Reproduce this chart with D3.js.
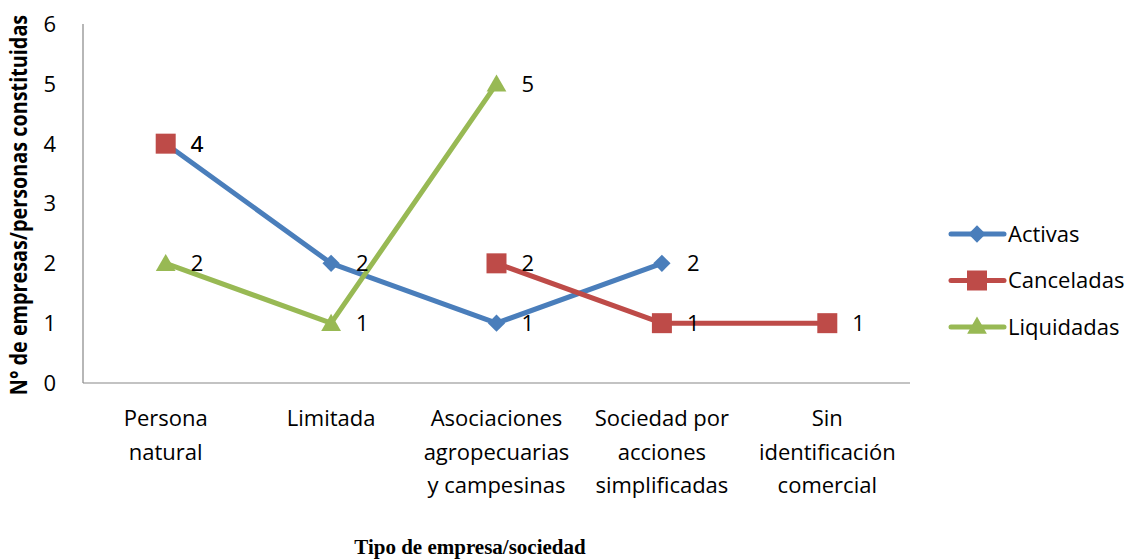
<!DOCTYPE html>
<html>
<head>
<meta charset="utf-8">
<script src="https://cdn.jsdelivr.net/npm/d3@7"></script>
<style>
  body { margin: 0; background: #fff; }
  svg { display: block; }
</style>
</head>
<body>
<svg id="chart" width="1132" height="559"></svg>
<script>
// Categories (multi-line labels split on "|")
const categories = [
  "Persona|natural",
  "Limitada",
  "Asociaciones|agropecuarias|y campesinas",
  "Sociedad por|acciones|simplificadas",
  "Sin|identificación|comercial"
];
const activas    = [4, 2, 1, 2, null];
const canceladas = [4, null, 2, 1, 1];
const liquidadas = [2, 1, 5, null, null];
const yTicks = [0, 1, 2, 3, 4, 5, 6];

const series = [
  { name: "Activas",    values: activas,    color: "#4a7ebb", shape: "diamond" },
  { name: "Canceladas", values: canceladas, color: "#be4b48", shape: "square" },
  { name: "Liquidadas", values: liquidadas, color: "#98b954", shape: "triangle" }
];

const svg = d3.select("#chart");
const font = "'Open Sans', Lato, sans-serif";
const fs = "22px";
const plot = { left: 83, right: 910, top: 24, bottom: 383 };

const x = d3.scalePoint().domain(d3.range(categories.length))
  .range([plot.left, plot.right]).padding(0.5);
const y = d3.scaleLinear().domain([0, 6]).range([plot.bottom, plot.top]);

// Axis lines
svg.append("line").attr("x1", plot.left).attr("x2", plot.left)
  .attr("y1", plot.top).attr("y2", plot.bottom)
  .attr("stroke", "#878787").attr("stroke-width", 1.2);
svg.append("line").attr("x1", plot.left).attr("x2", plot.right)
  .attr("y1", plot.bottom).attr("y2", plot.bottom)
  .attr("stroke", "#878787").attr("stroke-width", 1.2);

// Y tick labels
svg.append("g").selectAll("text").data(yTicks).join("text")
  .attr("x", 56).attr("y", d => y(d)).attr("dy", "0.36em")
  .attr("text-anchor", "end")
  .style("font-family", font).style("font-size", fs).attr("fill", "#000")
  .text(d => d);

// Category labels
const catG = svg.append("g");
categories.forEach((c, i) => {
  const t = catG.append("text")
    .attr("x", x(i)).attr("y", 426)
    .attr("text-anchor", "middle")
    .style("font-family", font).style("font-size", fs).attr("fill", "#000");
  c.split("|").forEach((line, k) => {
    t.append("tspan").attr("x", x(i)).attr("dy", k === 0 ? 0 : 33.5).text(line);
  });
});

// Axis titles (y title narrowed horizontally to keep a tall, compact face)
svg.append("text")
  .attr("transform", "translate(27,205) rotate(-90) scale(0.88,1)")
  .attr("text-anchor", "middle")
  .style("font-family", font).style("font-size", "22.5px").style("font-weight", "bold")
  .text("N° de empresas/personas constituidas");
svg.append("text")
  .attr("x", 470).attr("y", 554)
  .attr("text-anchor", "middle")
  .style("font-family", "'Liberation Serif', 'Times New Roman', serif")
  .style("font-size", "21px").style("font-weight", "bold")
  .text("Tipo de empresa/sociedad");

// Marker symbols
function markerPath(shape) {
  if (shape === "diamond") return d3.symbol(d3.symbolDiamond2, 190)();
  if (shape === "square") return d3.symbol(d3.symbolSquare, 400)();
  return d3.symbol(d3.symbolTriangle2, 280)();
}

const line = d3.line()
  .defined(d => d.v !== null)
  .x(d => x(d.i)).y(d => y(d.v));

series.forEach(s => {
  const pts = s.values.map((v, i) => ({ v, i }));
  svg.append("path").datum(pts)
    .attr("d", line).attr("fill", "none")
    .attr("stroke", s.color).attr("stroke-width", 5)
    .attr("stroke-linejoin", "round");
  svg.append("g").selectAll("path").data(pts.filter(d => d.v !== null)).join("path")
    .attr("transform", d => `translate(${x(d.i)},${y(d.v) + (s.shape === "triangle" ? 2 : 0)})`)
    .attr("d", markerPath(s.shape)).attr("fill", s.color);
});

// Data labels
series.forEach(s => {
  svg.append("g").selectAll("text")
    .data(s.values.map((v, i) => ({ v, i })).filter(d => d.v !== null)).join("text")
    .attr("x", d => x(d.i) + 25).attr("y", d => y(d.v)).attr("dy", "0.37em")
    .style("font-family", font).style("font-size", fs).attr("fill", "#000")
    .text(d => d.v);
});

// Legend
const legend = svg.append("g");
series.forEach((s, k) => {
  const ly = 234 + k * 46.5;
  legend.append("line").attr("x1", 951).attr("x2", 1004)
    .attr("y1", ly).attr("y2", ly)
    .attr("stroke", s.color).attr("stroke-width", 5).attr("stroke-linecap", "round");
  legend.append("path")
    .attr("transform", `translate(977,${ly + (s.shape === "triangle" ? 1 : 0)})`)
    .attr("d", markerPath(s.shape)).attr("fill", s.color);
  legend.append("text").attr("x", 1008).attr("y", ly).attr("dy", "0.36em")
    .style("font-family", font).style("font-size", fs)
    .text(s.name);
});
</script>
</body>
</html>
